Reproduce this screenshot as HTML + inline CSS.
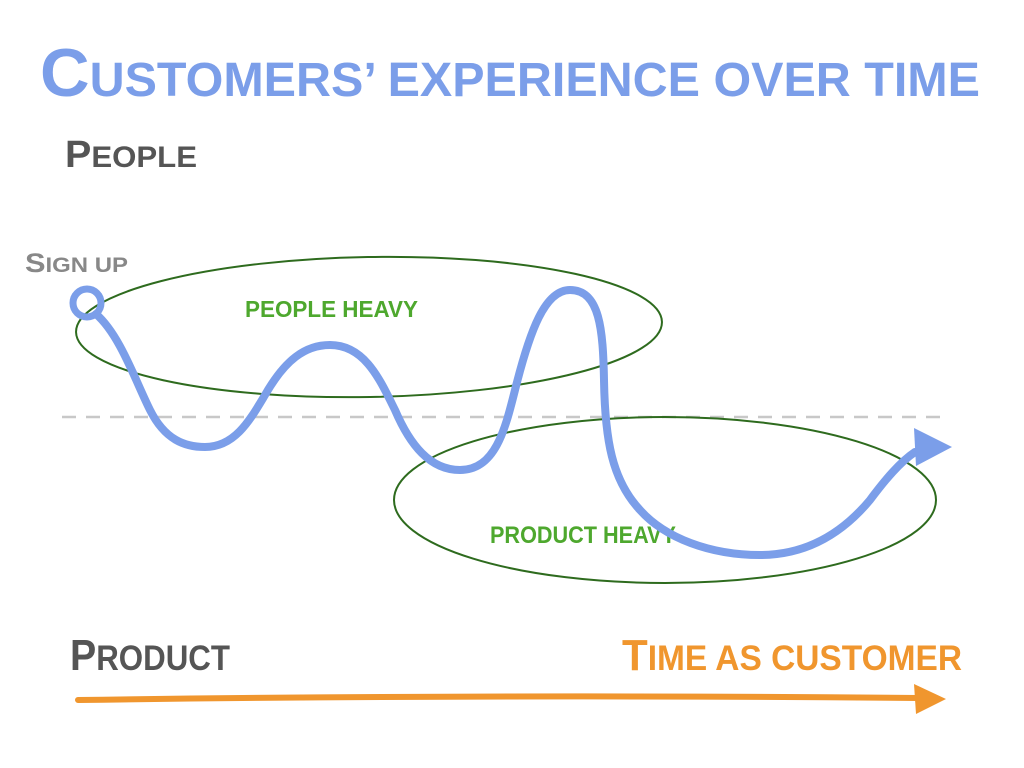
<!DOCTYPE html>
<html><head><meta charset="utf-8"><style>
html,body{margin:0;padding:0;background:#fff;}
svg{display:block;}
text{font-family:"Liberation Sans",sans-serif;font-weight:bold;}
</style></head><body>
<svg width="1024" height="768" viewBox="0 0 1024 768" xmlns="http://www.w3.org/2000/svg">
<text x="40" y="96" font-size="48" fill="#7b9ee9" textLength="940" lengthAdjust="spacingAndGlyphs"><tspan font-size="68">C</tspan>USTOMERS’ EXPERIENCE OVER TIME</text>
<text x="65" y="167" font-size="30" fill="#555" textLength="132" lengthAdjust="spacingAndGlyphs"><tspan font-size="38">P</tspan>EOPLE</text>
<text x="25" y="272" font-size="21" fill="#888" textLength="103" lengthAdjust="spacingAndGlyphs"><tspan font-size="27">S</tspan>IGN UP</text>
<text x="245" y="317" font-size="23" fill="#4ea82e" textLength="173" lengthAdjust="spacingAndGlyphs">PEOPLE HEAVY</text>
<text x="490" y="543" font-size="24" fill="#4ea82e" textLength="186" lengthAdjust="spacingAndGlyphs">PRODUCT HEAVY</text>
<text x="70" y="670" font-size="35" fill="#555" textLength="160" lengthAdjust="spacingAndGlyphs"><tspan font-size="44">P</tspan>RODUCT</text>
<text x="622" y="670" font-size="35" fill="#f0962e" textLength="340" lengthAdjust="spacingAndGlyphs"><tspan font-size="44">T</tspan>IME AS CUSTOMER</text>
<line x1="62" y1="417" x2="945" y2="417" stroke="#c8c8c8" stroke-width="2.5" stroke-dasharray="14,10"/>
<ellipse cx="369" cy="327" rx="293" ry="70" fill="none" stroke="#2e6b1e" stroke-width="2" transform="rotate(-1 369 327)"/>
<ellipse cx="665" cy="500" rx="271" ry="83" fill="none" stroke="#2e6b1e" stroke-width="2"/>
<path d="M78 700 Q500 694 918 698" stroke="#f0962e" stroke-width="6" fill="none" stroke-linecap="round"/>
<polygon points="914,684 946,699 916,714" fill="#f0962e"/>
<circle cx="87" cy="303" r="14" fill="none" stroke="#7b9ee9" stroke-width="7"/>
<path d="M96 314 C120 335 135 380 150 410 C165 440 185 447 205 447 C235 447 250 420 265 395 C285 360 305 345 330 345 C365 345 380 380 395 410 C410 445 430 470 460 470 C495 470 505 430 515 390 C530 330 545 290 570 290 C600 290 603 330 604 380 C605 440 612 480 640 510 C665 538 710 555 760 555 C810 555 845 530 870 500 C885 480 900 462 915 452" fill="none" stroke="#7b9ee9" stroke-width="8" stroke-linecap="round"/>
<polygon points="914,428 952,447 916,466" fill="#7b9ee9"/>
</svg>
</body></html>
